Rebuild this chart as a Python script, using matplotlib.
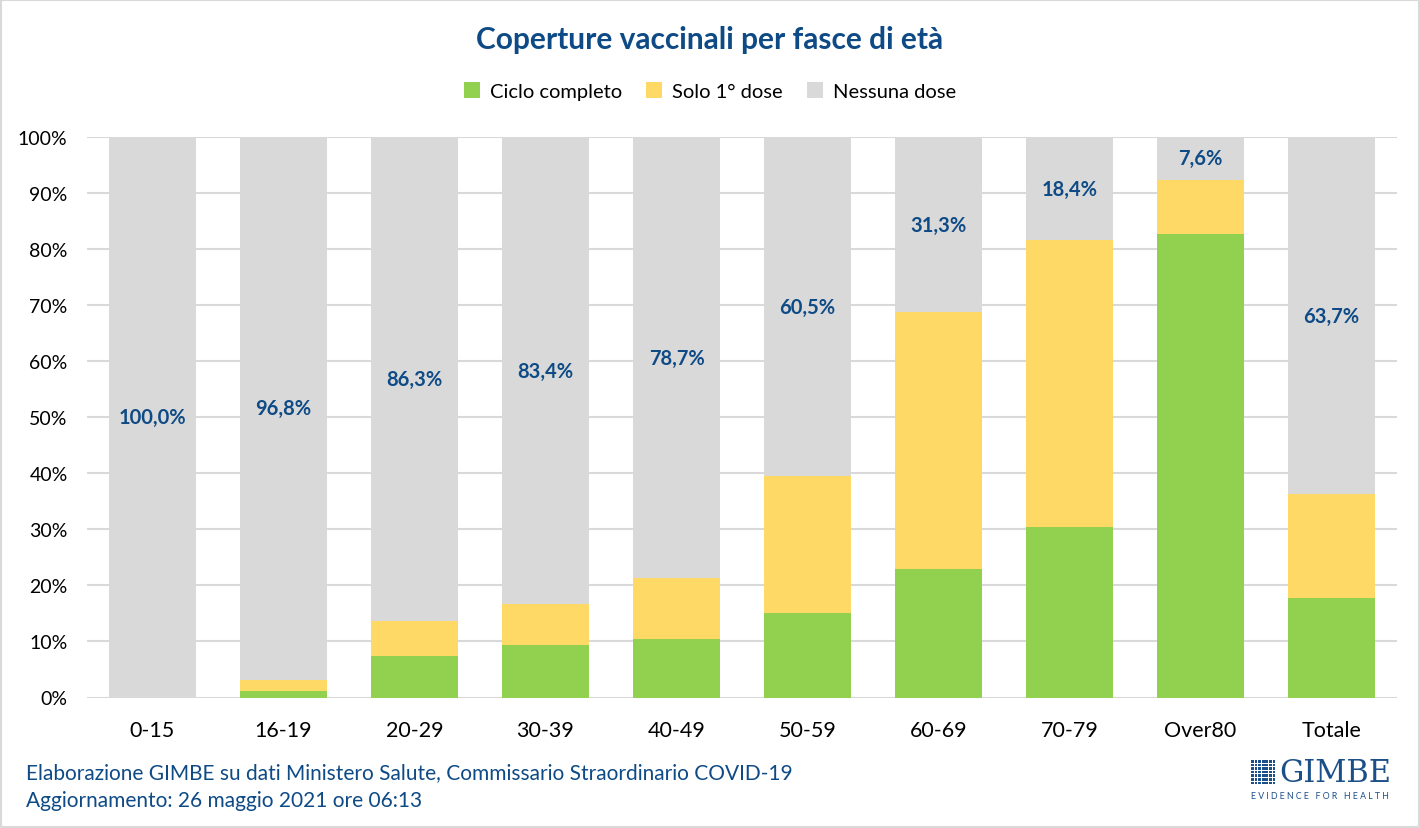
import numpy as np
import matplotlib.pyplot as plt
from matplotlib.patches import Rectangle

plt.rcParams['font.family'] = ['Lato', 'DejaVu Sans']

# Data (percent)
categories = ['0-15', '16-19', '20-29', '30-39', '40-49', '50-59', '60-69', '70-79', 'Over80', 'Totale']
ciclo_completo = [0.0, 1.2, 7.4, 9.3, 10.5, 15.1, 23.0, 30.4, 82.7, 17.8]
solo_prima = [0.0, 2.0, 6.3, 7.3, 10.8, 24.4, 45.7, 51.2, 9.7, 18.5]
nessuna_dose = [100.0, 96.8, 86.3, 83.4, 78.7, 60.5, 31.3, 18.4, 7.6, 63.7]

green = '#92D050'
yellow = '#FFD966'
grey = '#D9D9D9'
blue = '#0E4A85'

fig = plt.figure(figsize=(14.2, 8.29), dpi=100)
ax = fig.add_axes([87 / 1420, 1 - 698.5 / 829, 1310 / 1420, 560.5 / 829])

x = np.arange(len(categories))
w = 0.66
g = np.array(ciclo_completo)
y = np.array(solo_prima)
n = np.array(nessuna_dose)

ax.bar(x, g, w, color=green, label='Ciclo completo', zorder=2)
ax.bar(x, y, w, bottom=g, color=yellow, label='Solo 1° dose', zorder=2)
ax.bar(x, n, w, bottom=g + y, color=grey, label='Nessuna dose', zorder=2)

# labels for "Nessuna dose", centred in the grey segment
for xi, b, v in zip(x, g + y, n):
    ax.text(xi, b + v / 2, f'{v:.1f}%'.replace('.', ','), ha='center', va='center',
            fontsize=14.5, fontweight='bold', color=blue, zorder=3)

ax.set_xlim(-0.5, len(categories) - 0.5)
ax.set_ylim(0, 100)
ax.set_yticks(np.arange(0, 101, 10))
ax.set_yticklabels([f'{t}%' for t in range(0, 101, 10)], fontsize=14)
ax.set_xticks(x)
ax.set_xticklabels(categories, fontsize=15.5)
ax.tick_params(axis='x', length=0, pad=16)
ax.tick_params(axis='y', length=0, pad=14)
ax.yaxis.grid(True, color='#D9D9D9', linewidth=1.5, zorder=0)
for s in ax.spines.values():
    s.set_visible(False)

fig.text(0.5, 1 - 40 / 829, 'Coperture vaccinali per fasce di età', ha='center', va='center',
         fontsize=21.5, fontweight='bold', color=blue)

handles, labels = ax.get_legend_handles_labels()
fig.legend(handles, labels, loc='center', bbox_to_anchor=(0.5, 1 - 92 / 829), ncol=3,
           frameon=False, fontsize=14.5, handlelength=0.8, handleheight=0.8,
           columnspacing=1.2, handletextpad=0.5)

fig.text(26 / 1420, 1 - 773 / 829, 'Elaborazione GIMBE su dati Ministero Salute, Commissario Straordinario COVID-19',
         ha='left', va='center', fontsize=15, color=blue)
fig.text(26 / 1420, 1 - 801 / 829, 'Aggiornamento: 26 maggio 2021 ore 06:13',
         ha='left', va='center', fontsize=15, color=blue)

# GIMBE logo
logo_blue = '#1B4F8A'
x0, y0, cell = 1251, 760, 3.6
for i in range(7):
    for j in range(7):
        fig.patches.append(Rectangle(((x0 + j * cell) / 1420, 1 - (y0 + (i + 1) * cell) / 829),
                                     (cell - 0.9) / 1420, (cell - 0.9) / 829,
                                     transform=fig.transFigure, color=logo_blue, linewidth=0))
fig.text(1279 / 1420, 1 - 774 / 829, 'GIMBE', ha='left', va='center', fontsize=22,
         family='DejaVu Serif', color=logo_blue)
fig.text(1251 / 1420, 1 - 797 / 829, 'E V I D E N C E   F O R   H E A L T H', ha='left', va='center',
         fontsize=6.3, color=logo_blue)

fig.patches.append(Rectangle((0.001, 0.001), 0.998, 0.998, transform=fig.transFigure,
                             fill=False, edgecolor='#D9D9D9', linewidth=1.5))

fig.savefig('out.png', dpi=100, facecolor='white')
